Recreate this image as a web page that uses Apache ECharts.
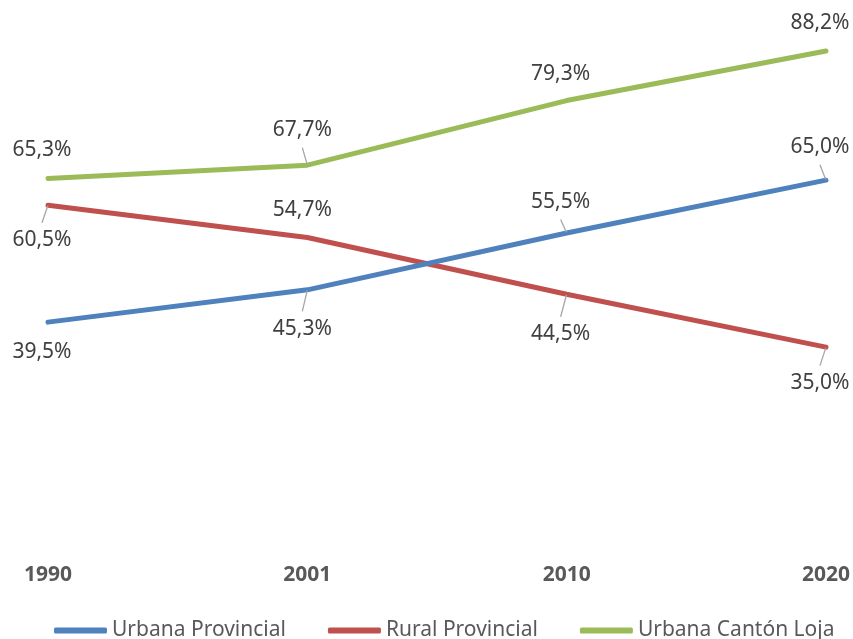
<!DOCTYPE html>
<html>
<head>
<meta charset="utf-8">
<script src="https://cdn.jsdelivr.net/npm/echarts@6/dist/echarts.min.js"></script>
<style>html,body{margin:0;padding:0;background:#fff;}#chart{width:853px;height:639px;}</style>
</head>
<body>
<div id="chart"></div>
<script>
const years = ['1990', '2001', '2010', '2020'];
const seriesNames = ['Urbana Provincial', 'Rural Provincial', 'Urbana Cantón Loja'];
const urbanaProvincial = [39.5, 45.3, 55.5, 65.0];
const ruralProvincial = [60.5, 54.7, 44.5, 35.0];
const urbanaCanton = [65.3, 67.7, 79.3, 88.2];

// label placement offsets (dx, dy) relative to each point, and whether a leader line is shown
const labelOffsets = [
  [[-6, 30], [-5, 39], [-6, -31], [-6, -33]],
  [[-6, 35], [-5, -27], [-6, 40], [-6, 36]],
  [[-6, -28], [-5, -35], [-6, -27], [-6, -28]]
];
const leaderShown = [
  [false, true, true, true],
  [true, false, true, true],
  [false, true, false, false]
];
const colors = ['#4F81BD', '#C0504D', '#9BBB59'];
const values = [urbanaProvincial, ruralProvincial, urbanaCanton];
const FONT = '"Noto Sans", "Open Sans", sans-serif';

const chart = echarts.init(document.getElementById('chart'));
const series = values.map((vals, si) => ({
  name: seriesNames[si],
  type: 'line',
  data: vals.map((v, i) => ({ value: v, labelLine: { show: leaderShown[si][i] } })),
  symbol: 'circle',
  symbolSize: 1,
  showSymbol: true,
  lineStyle: { width: 5, color: colors[si], cap: 'round' },
  itemStyle: { color: colors[si] },
  z: 3 - si,
  label: {
    show: true,
    position: 'inside',
    formatter: p => p.value.toFixed(1).replace('.', ',') + '%',
    fontFamily: FONT,
    fontSize: 21,
    color: '#404040',
    backgroundColor: 'rgba(255,255,255,0)',
    padding: [7, 0, 7, 0]
  },
  labelLine: { show: true, lineStyle: { color: '#A6A6A6', width: 1.3 } },
  labelLayout: function (params) {
    const o = labelOffsets[si][params.dataIndex];
    return { dx: o[0], dy: o[1] };
  },
  emphasis: { disabled: true },
  animation: false
}));

chart.setOption({
  animation: false,
  color: colors,
  grid: { left: 48, right: 27, top: 41, bottom: 97, containLabel: false },
  xAxis: {
    type: 'category',
    data: years,
    boundaryGap: false,
    axisLine: { show: false },
    axisTick: { show: false },
    axisLabel: {
      margin: 23,
      fontFamily: FONT,
      fontSize: 21,
      fontWeight: 'bold',
      color: '#595959'
    }
  },
  yAxis: {
    type: 'value',
    min: 0,
    max: 90,
    show: false,
    splitLine: { show: false }
  },
  legend: {
    data: seriesNames,
    top: 615,
    left: 49,
    itemWidth: 53,
    itemHeight: 6,
    itemGap: 42,
    icon: 'roundRect',
    textStyle: { fontFamily: FONT, fontSize: 21, color: '#595959' }
  },
  series: series
});
</script>
</body>
</html>
